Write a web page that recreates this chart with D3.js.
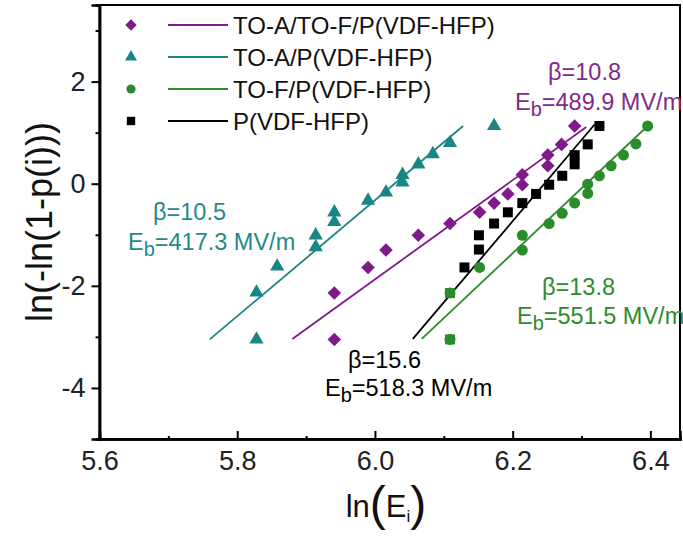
<!DOCTYPE html>
<html><head><meta charset="utf-8">
<script src="https://cdn.jsdelivr.net/npm/d3@7"></script>
<style>body{margin:0;background:#fff}svg{display:block}</style>
</head><body><svg id="c" width="683" height="538"></svg>
<script>
// ---- data ----
const xTicks = [5.6, 5.8, 6.0, 6.2, 6.4];
const xMinor = [5.7, 5.9, 6.1, 6.3];
const yTicks = [-4, -2, 0, 2];
const yMinor = [-3, -1, 1, 3];

const seriesNames = ["TO-A/TO-F/P(VDF-HFP)", "TO-A/P(VDF-HFP)", "TO-F/P(VDF-HFP)", "P(VDF-HFP)"];

const purpleX = [5.941, 5.941, 5.990, 6.016, 6.063, 6.109, 6.152, 6.173, 6.193, 6.214, 6.214, 6.251, 6.251, 6.271, 6.290];
const purpleY = [-3.05, -2.14, -1.64, -1.30, -1.01, -0.78, -0.56, -0.38, -0.20, -0.02, 0.175, 0.35, 0.56, 0.77, 1.13];
const tealX = [5.828, 5.828, 5.858, 5.914, 5.914, 5.941, 5.941, 5.990, 6.016, 6.040, 6.040, 6.063, 6.084, 6.109, 6.173];
const tealY = [-3.05, -2.13, -1.62, -1.24, -1.01, -0.75, -0.56, -0.33, -0.17, 0.025, 0.175, 0.38, 0.58, 0.80, 1.13];
const greenX = [6.109, 6.109, 6.152, 6.214, 6.214, 6.253, 6.272, 6.290, 6.309, 6.309, 6.326, 6.343, 6.361, 6.379, 6.396];
const greenY = [-3.05, -2.14, -1.64, -1.30, -1.01, -0.78, -0.58, -0.38, -0.19, -0.01, 0.155, 0.35, 0.56, 0.78, 1.13];
const blackX = [6.109, 6.109, 6.130, 6.151, 6.151, 6.173, 6.193, 6.214, 6.234, 6.253, 6.272, 6.290, 6.290, 6.309, 6.326];
const blackY = [-3.05, -2.14, -1.64, -1.29, -1.01, -0.78, -0.56, -0.38, -0.20, -0.02, 0.155, 0.38, 0.56, 0.77, 1.13];

const purpleFitX = [5.880, 6.307], purpleFitY = [-3.04, 1.11];
const tealFitX = [5.760, 6.128], tealFitY = [-3.05, 1.13];
const greenFitX = [6.068, 6.396], greenFitY = [-3.04, 1.13];
const blackFitX = [6.055, 6.319], blackFitY = [-3.04, 1.16];

const betaLabels = ["β=10.8", "β=10.5", "β=13.8", "β=15.6"];
const ebLabels = ["=489.9 MV/m", "=417.3 MV/m", "=551.5 MV/m", "=518.3 MV/m"];

// ---- setup ----
const L = 99.5, R = 680, T = 5, B = 439;
const svg = d3.select("#c");
const font = "'Liberation Sans', Arial, sans-serif";
const x = d3.scaleLinear().domain([5.6, 6.443]).range([L, R]);
const y = d3.scaleLinear().domain([-5, 3.5]).range([B, T]);

const colors = ["#7e1a8a", "#1a8585", "#2a8c2a", "#000000"];
const textColors = ["#7e2a8c", "#1f8a8a", "#2e8b2e", "#000000"];
const shapes = [
  {type: d3.symbolSquare, size: 92, rot: 45},
  {type: d3.symbolTriangle, size: 88, rot: 0},
  {type: d3.symbolCircle, size: 95, rot: 0},
  {type: d3.symbolSquare, size: 100, rot: 0}
];

const series = [
  {xs: purpleX, ys: purpleY, fx: purpleFitX, fy: purpleFitY},
  {xs: tealX, ys: tealY, fx: tealFitX, fy: tealFitY},
  {xs: greenX, ys: greenY, fx: greenFitX, fy: greenFitY},
  {xs: blackX, ys: blackY, fx: blackFitX, fy: blackFitY}
].map((s, i) => ({...s, i, name: seriesNames[i]}));

// ---- frame ----
svg.append("rect").attr("x", L).attr("y", T).attr("width", R - L).attr("height", B - T)
  .attr("fill", "none").attr("stroke", "#000").attr("stroke-width", 2);

// ---- axes ----
const xAxis = svg.append("g").attr("transform", `translate(0,${B})`)
  .call(d3.axisBottom(x).tickValues(xTicks).tickFormat(d3.format(".1f")).tickSize(-8).tickPadding(12));
const xAxisMinor = svg.append("g").attr("transform", `translate(0,${B})`)
  .call(d3.axisBottom(x).tickValues(xMinor).tickFormat("").tickSize(-3));
const yAxis = svg.append("g").attr("transform", `translate(${L},0)`)
  .call(d3.axisLeft(y).tickValues(yTicks).tickFormat(d3.format("d")).tickSize(8).tickPadding(6));
const yAxisMinor = svg.append("g").attr("transform", `translate(${L},0)`)
  .call(d3.axisLeft(y).tickValues(yMinor).tickFormat("").tickSize(4));
[xAxis, xAxisMinor, yAxis, yAxisMinor].forEach(g => {
  g.select(".domain").attr("stroke-width", 2.5);
  g.selectAll(".tick line").attr("stroke-width", 2);
  g.selectAll("text").attr("font-family", font).attr("font-size", 27).attr("fill", "#222");
});
yAxis.selectAll("text").text(d => d < 0 ? "-" + Math.abs(d) : d);

// ---- fit lines ----
const lineGen = d3.line().x(d => x(d[0])).y(d => y(d[1]));
const drawOrder = [1, 0, 3, 2];
drawOrder.forEach(i => {
  const s = series[i];
  svg.append("path").datum(s.fx.map((v, k) => [v, s.fy[k]]))
    .attr("d", lineGen).attr("fill", "none").attr("stroke", colors[i]).attr("stroke-width", 1.8);
});
// ---- markers ----
const greenKeys = new Set(greenX.map((v, k) => v + "|" + greenY[k]));
drawOrder.forEach(i => {
  const s = series[i];
  const sh = shapes[i];
  svg.append("g").selectAll("path").data(s.xs.map((v, k) => [v, s.ys[k]])).join("path")
    .attr("d", d3.symbol().type(sh.type).size(sh.size))
    .attr("transform", d => `translate(${x(d[0])},${y(d[1])}) rotate(${sh.rot})`)
    .attr("fill", d => (i === 3 && greenKeys.has(d[0] + "|" + d[1])) ? colors[2] : colors[i]);
});

// ---- legend ----
const legY = [25, 57, 89, 121];
series.forEach((s, i) => {
  const sh = shapes[i];
  const g = svg.append("g").attr("transform", `translate(0,${legY[i]})`);
  g.append("path").attr("d", d3.symbol().type(sh.type).size(sh.size * 0.7))
    .attr("transform", `translate(131,0) rotate(${sh.rot})`).attr("fill", colors[i]);
  g.append("line").attr("x1", 168).attr("x2", 228).attr("stroke", colors[i]).attr("stroke-width", 1.8);
  g.append("text").attr("x", 233).attr("dy", "0.36em").attr("font-family", font)
    .attr("font-size", 24).attr("fill", "#111").text(s.name);
});

// ---- annotations ----
const annPos = [[548, 80, 515, 110], [153, 220, 128, 250], [542, 295, 517, 324], [348, 368, 325, 396]];
annPos.forEach((p, i) => {
  svg.append("text").attr("x", p[0]).attr("y", p[1]).attr("font-family", font).attr("font-size", 23.5)
    .attr("fill", textColors[i]).text(betaLabels[i]);
  const t = svg.append("text").attr("x", p[2]).attr("y", p[3]).attr("font-family", font).attr("font-size", 23.5)
    .attr("fill", textColors[i]);
  t.append("tspan").text("E");
  t.append("tspan").attr("font-size", 20).attr("dy", 6).text("b");
  t.append("tspan").attr("dy", -6).text(ebLabels[i]);
});

// ---- axis titles ----
const xt = svg.append("text").attr("x", 386).attr("y", 517).attr("text-anchor", "middle")
  .attr("font-family", font).attr("font-size", 31).attr("fill", "#111");
xt.append("tspan").text("ln");
xt.append("tspan").attr("font-size", 48).attr("dy", 3).text("(");
xt.append("tspan").attr("dy", -3).text("E");
xt.append("tspan").attr("font-size", 17).attr("dy", 5).text("i");
xt.append("tspan").attr("font-size", 48).attr("dy", -2).text(")");

svg.append("text").attr("transform", "translate(52,222) rotate(-90)").attr("text-anchor", "middle")
  .attr("font-family", font).attr("font-size", 36).attr("fill", "#111").text("ln(-ln(1-p(i)))");
</script>
</body></html>
